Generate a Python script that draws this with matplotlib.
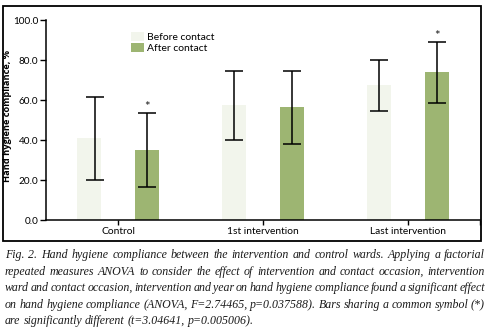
import matplotlib
matplotlib.use("Agg")
import matplotlib.pyplot as plt
import matplotlib.patches as mpatches
import numpy as np

# ---- data ----
categories = ["Control", "1st intervention", "Last intervention"]
series_names = ["Before contact", "After contact"]
before_mean = [41.2, 57.5, 67.5]
before_low = [19.8, 39.8, 54.3]
before_high = [61.3, 74.7, 79.8]
after_mean = [35.0, 56.5, 74.0]
after_low = [16.7, 37.8, 58.3]
after_high = [53.3, 74.3, 88.8]
after_sig = ["*", "", "*"]
yticks = [0, 20, 40, 60, 80, 100]

caption_lines = [
    "Fig. 2. Hand hygiene compliance between the intervention and control wards. Applying a factorial",
    "repeated measures ANOVA to consider the effect of intervention and contact occasion, intervention",
    "ward and contact occasion, intervention and year on hand hygiene compliance found a significant effect",
    "on hand hygiene compliance (ANOVA, F=2.74465, p=0.037588). Bars sharing a common symbol (*)",
    "are significantly different (t=3.04641, p=0.005006).",
]

W, H, DPI = 490, 333, 100
fig = plt.figure(figsize=(W / DPI, H / DPI), dpi=DPI)
fig.patch.set_facecolor("white")

SANS = ["Lato", "DejaVu Sans"]
c_before = "#f2f5ec"
c_after = "#9db572"

# axes placement (pixels)
ax_l, ax_r, ax_t, ax_b = 46, 480, 20, 220
ax = fig.add_axes([ax_l / W, (H - ax_b) / H, (ax_r - ax_l) / W, (ax_b - ax_t) / H])
ax.set_facecolor("none")

x = np.arange(len(categories))
off, bw = 0.2, 0.166
bm = np.array(before_mean); am = np.array(after_mean)
ax.bar(x - off, bm, bw, color=c_before, label=series_names[0], zorder=1)
ax.bar(x + off, am, bw, color=c_after, label=series_names[1], zorder=1)

err_shift = np.array([0.04, 0.0, 0.0])
ax.errorbar(x - off + err_shift, bm,
            yerr=[bm - np.array(before_low), np.array(before_high) - bm],
            fmt="none", ecolor="black", elinewidth=1.1, capsize=6.5, capthick=1.1, zorder=3)
ax.errorbar(x + off, am,
            yerr=[am - np.array(after_low), np.array(after_high) - am],
            fmt="none", ecolor="black", elinewidth=1.1, capsize=6.5, capthick=1.1, zorder=3)
for xi, hi, s in zip(x + off, after_high, after_sig):
    if s:
        ax.text(xi, hi + 0.3, s, ha="center", va="bottom", fontsize=9.5,
                family=SANS, color="#222222")

ax.set_xlim(-0.5, 2.5)
ax.set_ylim(0, 100)
ax.set_yticks(yticks)
ax.set_yticklabels([f"{v:.1f}" for v in yticks], family=SANS, fontsize=7.2)
ax.set_xticks(x)
ax.set_xticklabels(categories, family=SANS, fontsize=7.4)
ax.set_xticks([2.5], minor=True)
ax.tick_params(axis="y", direction="out", length=4, width=1.0, pad=1.5, colors="black")
ax.tick_params(axis="x", which="both", direction="out", length=3.5, width=1.0, pad=1.5, colors="black")
for sp in ["top", "right"]:
    ax.spines[sp].set_visible(False)
for sp in ["left", "bottom"]:
    ax.spines[sp].set_linewidth(1.1)
ax.set_ylabel("Hand hygiene compliance, %", family=["Open Sans", "DejaVu Sans"], fontsize=6.7,
              fontweight="bold")
ax.yaxis.set_label_coords((12 - ax_l) / (ax_r - ax_l), (ax_b - 116) / (ax_b - ax_t))

leg = ax.legend(loc="upper left", bbox_to_anchor=((131 - ax_l) / (ax_r - ax_l), (ax_b - 32) / (ax_b - ax_t)),
                frameon=False, prop={"family": SANS, "size": 7.5}, handlelength=1.2,
                handleheight=1.0, handletextpad=0.3, labelspacing=0.05, borderpad=0, borderaxespad=0)

# frame around chart
fig.patches.append(mpatches.Rectangle((3 / W, (H - 241) / H), 478 / W, 235 / H,
                                      transform=fig.transFigure, fill=False,
                                      edgecolor="black", linewidth=1.3))

# justified caption
SERIF = ["Liberation Serif", "DejaVu Serif"]
renderer = fig.canvas.get_renderer()
left_px, right_px = 5, 485
base0, step = 258, 16.6
fs = 8.6
def tw(s):
    t = fig.text(0, 0, s, family=SERIF, style="italic", fontsize=fs)
    w = t.get_window_extent(renderer).width
    t.remove()
    return w
space_w = tw("a b") - tw("ab")
for i, line in enumerate(caption_lines):
    words = line.split(" ")
    y = (H - (base0 + i * step)) / H
    texts = [fig.text(0, y, w, family=SERIF, style="italic", fontsize=fs,
                      color="#1a1a1a", va="baseline", ha="left") for w in words]
    widths = [t.get_window_extent(renderer).width for t in texts]
    if i < len(caption_lines) - 1:
        gap = (right_px - left_px - sum(widths)) / (len(words) - 1)
    else:
        gap = space_w
    xp = left_px
    for t, w in zip(texts, widths):
        t.set_x(xp / W)
        xp += w + gap

fig.savefig("out.png", dpi=DPI)
